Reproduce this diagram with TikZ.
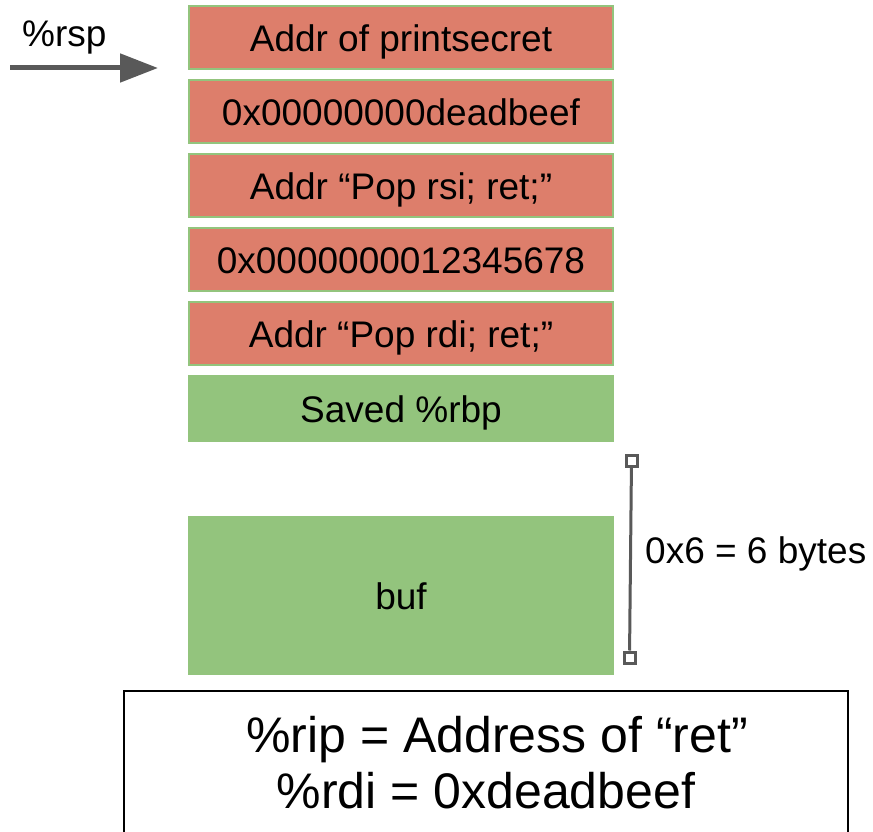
\documentclass[tikz,border=0pt]{standalone}
\usepackage{fontspec}
\setmainfont{Liberation Sans}
\usetikzlibrary{arrows.meta}
\definecolor{redfill}{HTML}{DD7E6B}
\definecolor{greenfill}{HTML}{93C47D}
\definecolor{darkgray}{HTML}{595959}
\begin{document}
\begin{tikzpicture}[x=1pt,y=-1pt,
  cell/.style={rectangle,minimum width=424pt,minimum height=63pt,inner sep=0pt,
    text height=30pt,text depth=2pt,font=\fontsize{37}{40}\selectfont},
  redcell/.style={cell,fill=redfill,draw=greenfill,line width=2pt},
  greencell/.style={cell,fill=greenfill},
  lbl/.style={inner sep=0pt,anchor=base west,font=\fontsize{37}{40}\selectfont},
  big/.style={inner sep=0pt,anchor=base,font=\fontsize{50}{56}\selectfont},
  endsq/.style={rectangle,draw=darkgray,fill=white,line width=3pt,minimum size=11pt,inner sep=0pt}]
\useasboundingbox (0,0) rectangle (873,832);
\clip (0,0) rectangle (873,832);
\node[redcell] (r1) at (401,37.5) {Addr of printsecret};
\node[redcell] (r2) at (401,111.5) {0x00000000deadbeef};
\node[redcell] (r3) at (401,185.5) {Addr “Pop rsi; ret;”};
\node[redcell] (r4) at (401,259.5) {0x0000000012345678};
\node[redcell] (r5) at (401,333.5) {Addr “Pop rdi; ret;”};
\node[greencell,minimum width=426pt,minimum height=67pt] (rbp) at (401,408) {Saved \%rbp};
\node[greencell,minimum width=426pt,minimum height=159pt] (buf) at (401,595.5) {buf};
% rsp arrow
\node[lbl] (rsp) at (22,47) {\%rsp};
\coordinate (as) at (10,68);
\coordinate (ae) at (158,68);
\draw[darkgray,line width=5pt,-{Triangle[length=38pt,width=28pt]}] (as) -- (ae);
% bracket
\node[endsq] (sqt) at (631.5,460.5) {};
\node[endsq] (sqb) at (629.5,657.5) {};
\draw[darkgray,line width=3pt] (sqt) -- (sqb);
\node[lbl] (sz) at (645,563) {0x6 = 6 bytes};
% bottom box
\coordinate (b1) at (124,840);
\coordinate (b2) at (848,691);
\draw[black,line width=2pt] (b1) rectangle (b2);
\node[big] (l1) at (497,752) {\%rip = Address of “ret”};
\node[big] (l2) at (486,808) {\%rdi = 0xdeadbeef};
\end{tikzpicture}
\end{document}
